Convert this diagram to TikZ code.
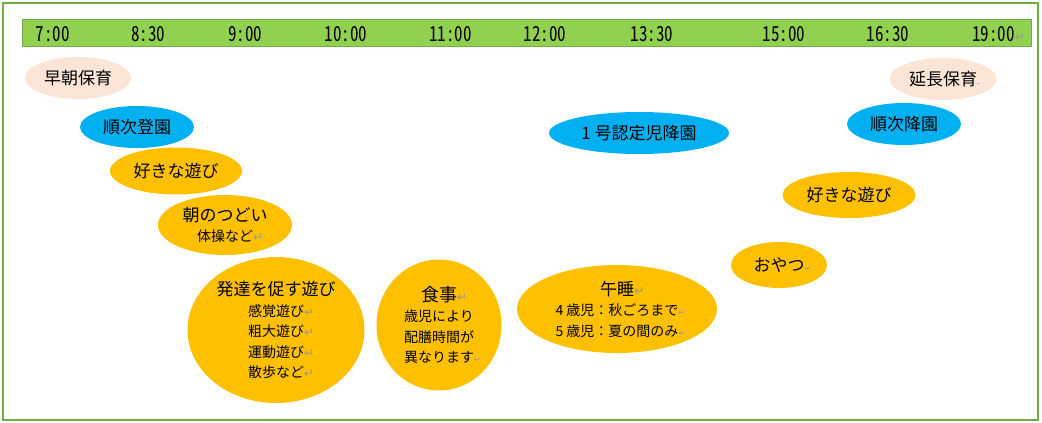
\documentclass[tikz,border=0pt]{standalone}
\usepackage{fontspec}
\usepackage{graphicx}
\setmainfont{Noto Sans CJK JP}
\newfontfamily\timefont[RawFeature=+hwid]{Noto Sans CJK JP}
\newfontfamily\dvfont{DejaVu Sans}
\usetikzlibrary{shapes.geometric}
\definecolor{frameg}{HTML}{70AD47}
\definecolor{barg}{HTML}{92D050}
\definecolor{ora}{HTML}{FFC000}
\definecolor{sky}{HTML}{00B0F0}
\definecolor{peach}{HTML}{FBE5D6}
\definecolor{markg}{HTML}{999999}
\newcommand{\retm}{\rlap{\dvfont\color{markg}\fontsize{12}{12}\selectfont ↵}}
\newcommand{\retsm}{\rlap{\dvfont\color{markg}\fontsize{8}{8}\selectfont ↵}}
\newcommand{\rettiny}{\rlap{\dvfont\color{markg}\fontsize{4}{4}\selectfont ↵}}
\newcommand{\bigline}[1]{{\fontsize{17}{20}\selectfont #1}}
\newcommand{\tstr}[1]{\scalebox{1}[1.22]{#1}}
\begin{document}
\begin{tikzpicture}[x=1pt,y=-1pt,
  ev/.style={ellipse, inner sep=0pt, align=center, font=\fontsize{17}{20}\selectfont},
  orev/.style={ev, fill=ora},
  blev/.style={ev, fill=sky},
  pkev/.style={ev, fill=peach},
  multi/.style={font=\fontsize{14}{20.5}\selectfont},
  tlabel/.style={font=\timefont\fontsize{17}{17}\selectfont, inner sep=0pt}]
\useasboundingbox (0,0) rectangle (1042,423);
\draw[frameg, line width=2pt] (3,2.5) rectangle (1038,420);
\node[draw=frameg, fill=barg, line width=0.8pt, minimum width=1009pt, minimum height=27pt,
      inner sep=0pt, anchor=north west] (bar) at (22,19) {};
% time labels
\node[tlabel] (t1) at (52.5,34.5) {\tstr{7:00}};
\node[tlabel] (t2) at (148,34.5) {\tstr{8:30}};
\node[tlabel] (t3) at (245,34.5) {\tstr{9:00}};
\node[tlabel] (t4) at (346,34.5) {\tstr{10:00}};
\node[tlabel] (t5) at (450.5,34.5) {\tstr{11:00}};
\node[tlabel] (t6) at (545,34.5) {\tstr{12:00}};
\node[tlabel] (t7) at (652,34.5) {\tstr{13:30}};
\node[tlabel] (t8) at (784,34.5) {\tstr{15:00}};
\node[tlabel] (t9) at (888,34.5) {\tstr{16:30}};
\node[tlabel] (t10) at (993.5,34.5) {\tstr{19:00}\retm};
% activities
\node[pkev, minimum width=106pt, minimum height=42pt] (soucho) at (78,78) {早朝保育};
\node[blev, minimum width=114pt, minimum height=42pt] (toen) at (137,127) {順次登園\rettiny};
\node[orev, minimum width=132pt, minimum height=47pt] (asobi1) at (176,171) {好きな遊び};
\node[orev, multi, minimum width=134pt, minimum height=60pt] (tsudoi) at (225,225)
  {\bigline{朝のつどい}\\体操など\retm};
\node[orev, multi, minimum width=177pt, minimum height=146pt] (hattatsu) at (276,330)
  {\bigline{発達を促す遊び}\\感覚遊び\retm\\粗大遊び\retm\\運動遊び\retm\\散歩など\retm};
\node[orev, multi, minimum width=125pt, minimum height=131pt] (shokuji) at (439,325)
  {{\fontsize{18}{20}\selectfont 食事}\retm\\歳児により\\配膳時間が\\異なります\retsm};
\node[blev, minimum width=180pt, minimum height=42pt] (kouen1) at (639,133) {1 号認定児降園};
\node[orev, multi, minimum width=200pt, minimum height=88pt] (gosui) at (617,309)
  {\bigline{午睡}\retm\\4 歳児：秋ごろまで\retsm\\5 歳児：夏の間のみ\retsm};
\node[orev, minimum width=96pt, minimum height=46pt] (oyatsu) at (779,265) {おやつ\retsm};
\node[orev, minimum width=133pt, minimum height=46pt] (asobi2) at (849,195) {好きな遊び};
\node[blev, minimum width=114pt, minimum height=42pt] (kouen2) at (904,124) {順次降園\rettiny};
\node[pkev, minimum width=107pt, minimum height=42pt] (encho) at (943,79) {延長保育\rettiny};
\end{tikzpicture}
\end{document}
